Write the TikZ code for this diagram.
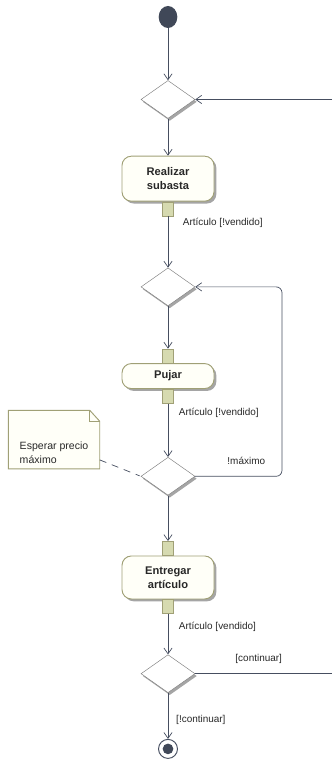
\documentclass[tikz,border=0pt]{standalone}
\usepackage{fontspec}
\setmainfont{Liberation Sans}
\usetikzlibrary{arrows.meta, positioning, shapes.geometric, shadows, backgrounds}
\definecolor{umllinea}{RGB}{70, 78, 96}
\definecolor{umlborde}{RGB}{160, 160, 118}
\definecolor{umlfondo}{RGB}{255, 255, 248}
\definecolor{umlpin}{RGB}{214, 218, 176}
\definecolor{umlsombra}{RGB}{165, 165, 165}
\definecolor{umloscuro}{RGB}{64, 72, 88}
\definecolor{umltexto}{RGB}{40, 40, 40}

\begin{document}
\begin{tikzpicture}[
  node distance=1.5cm,
  accion/.style={rectangle, draw=umlborde, line width=0.8pt, rounded corners=8pt, fill=umlfondo,
                 minimum width=2.76cm, align=center, text=umltexto,
                 font=\fontsize{9.5}{11.5}\selectfont\bfseries,
                 drop shadow={shadow xshift=2pt, shadow yshift=-2pt, fill=umlsombra, opacity=1}},
  pin/.style={rectangle, draw=umlborde, fill=umlpin, minimum width=0.33cm,
              minimum height=0.42cm, inner sep=0pt},
  decision/.style={diamond, draw=gray, fill=white, minimum width=1.62cm,
                   minimum height=1.14cm, inner sep=0pt,
                   drop shadow={shadow xshift=1.5pt, shadow yshift=-2pt, fill=umlsombra, opacity=1}},
  inicio/.style={ellipse, fill=umloscuro, minimum width=0.56cm, minimum height=0.66cm, inner sep=0pt},
  final/.style={circle, draw=umllinea, line width=0.8pt, fill=white, minimum size=0.57cm, inner sep=0pt,
                path picture={\fill[umloscuro] (path picture bounding box.center) circle (0.16cm);}},
  etiqueta/.style={font=\fontsize{8.5}{10}\selectfont, text=umltexto, inner sep=0pt},
  nota/.style={minimum width=2.73cm, minimum height=1.71cm, inner xsep=0.12cm,
               inner ysep=0.15cm, align=left, text=umltexto,
               font=\fontsize{9}{12}\selectfont},
  flecha/.style={-{Straight Barb[length=5pt, width=7pt]}, color=umllinea, line width=0.6pt},
  enlace/.style={color=umllinea, line width=0.6pt, dash pattern=on 6pt off 5pt}
]
  \useasboundingbox (0,0) rectangle (9.96,-23.01);

  \node[inicio] (inicio) at (5.04,-0.51) {};
  \node[decision, below=1.56cm of inicio] (d1) {};
  \node[accion, minimum height=1.35cm, below=1.11cm of d1] (subasta) {Realizar\\subasta};
  \node[pin, anchor=north] (p1) at (subasta.south) {};
  \node[decision, below=1.98cm of subasta] (d2) {};
  \node[accion, minimum height=0.75cm, below=1.71cm of d2] (pujar) {Pujar};
  \node[pin, anchor=south] (p2) at (pujar.north) {};
  \node[pin, anchor=north] (p3) at (pujar.south) {};
  \node[decision, below=2.04cm of pujar] (d3) {};
  \node[accion, minimum height=1.29cm, below=1.8cm of d3] (entregar) {Entregar\\artículo};
  \node[pin, anchor=south] (p4) at (entregar.north) {};
  \node[pin, anchor=north] (p5) at (entregar.south) {};
  \node[decision, below=1.65cm of entregar] (d4) {};
  \node[final, below=1.38cm of d4] (fin) {};

  \node[nota, left=1.23cm of d3, yshift=1.1cm] (nota) {\rule{0pt}{1.02cm}Esperar precio\\máximo};
  \begin{scope}[on background layer]
    \fill[umlsombra, xshift=2pt, yshift=-2pt] (nota.south west) -- (nota.north west)
      -- ([xshift=-0.3cm]nota.north east) -- ([yshift=-0.33cm]nota.north east)
      -- (nota.south east) -- cycle;
    \filldraw[fill=umlfondo, draw=umlborde, line width=0.8pt] (nota.south west) -- (nota.north west)
      -- ([xshift=-0.3cm]nota.north east) -- ([yshift=-0.33cm]nota.north east)
      -- (nota.south east) -- cycle;
    \draw[umlborde, line width=0.8pt] ([xshift=-0.3cm]nota.north east) -- ++(0,-0.33)
      -- ([yshift=-0.33cm]nota.north east);
  \end{scope}

  \node[etiqueta, below right=0.05cm and 0.27cm of p1] (l1) {Artículo [!vendido]};
  \node[etiqueta, below right=0.12cm and 0.15cm of p3] (l2) {Artículo [!vendido]};
  \node[etiqueta, below right=0.25cm and 0.15cm of p5] (l3) {Artículo [vendido]};
  \node[etiqueta, anchor=west] (maximo) at ([xshift=0.96cm, yshift=0.45cm]d3.east) {!máximo};
  \node[etiqueta, anchor=west] (sigue) at ([xshift=1.2cm, yshift=0.45cm]d4.east) {[continuar]};
  \node[etiqueta, anchor=west] (termina) at ([xshift=0.24cm, yshift=-0.81cm]d4.south) {[!continuar]};

  \coordinate (borde) at (9.96,0);
  \coordinate (lazo) at (8.46,0);
  \coordinate (retorno) at (d1.east -| borde);
  \coordinate (salida) at (d4.east -| borde);

  \draw[flecha] (inicio) -- (d1);
  \draw[flecha] (d1) -- (subasta);
  \draw[flecha] (p1) -- (d2);
  \draw[flecha] (d2) -- (p2);
  \draw[flecha] (p3) -- (d3);
  \draw[flecha] (d3) -- (p4);
  \draw[flecha] (p5) -- (d4);
  \draw[flecha] (d4) -- (fin);
  \draw[flecha] (retorno) -- (d1.east);
  \draw[flecha, rounded corners=5pt] (d3.east) -- (d3.east -| lazo) -- (d2.east -| lazo) -- (d2.east);
  \draw[color=umllinea, line width=0.6pt] (d4.east) -- (salida);
  \draw[enlace, shorten >=1pt] ([yshift=0.27cm]nota.south east) -- (d3.west);
\end{tikzpicture}
\end{document}
